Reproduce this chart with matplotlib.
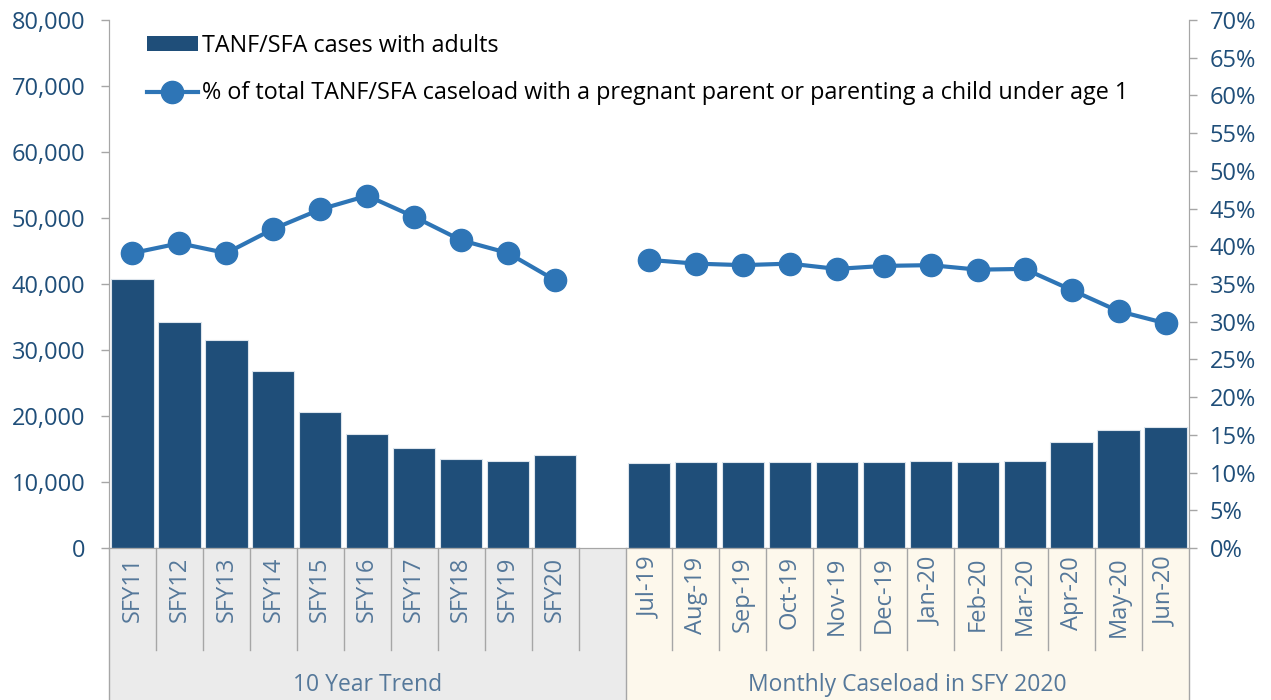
import matplotlib.pyplot as plt
import numpy as np
from matplotlib.lines import Line2D
from matplotlib.patches import Patch, Rectangle
from matplotlib.ticker import FuncFormatter

plt.rcParams['font.family'] = ['Open Sans', 'DejaVu Sans']

trend_labels = ['SFY11', 'SFY12', 'SFY13', 'SFY14', 'SFY15', 'SFY16', 'SFY17', 'SFY18', 'SFY19', 'SFY20']
trend_cases = [40800, 34250, 31500, 26800, 20600, 17250, 15150, 13500, 13200, 14100]
trend_pct = [39.1, 40.4, 39.1, 42.3, 44.9, 46.7, 43.9, 40.8, 39.1, 35.5]

month_labels = ['Jul-19', 'Aug-19', 'Sep-19', 'Oct-19', 'Nov-19', 'Dec-19',
                'Jan-20', 'Feb-20', 'Mar-20', 'Apr-20', 'May-20', 'Jun-20']
month_cases = [12900, 13100, 13000, 13100, 13000, 13050, 13150, 13100, 13200, 16100, 17950, 18300]
month_pct = [38.2, 37.7, 37.5, 37.7, 37.0, 37.4, 37.5, 36.9, 37.0, 34.2, 31.4, 29.8]

groups = ['10 Year Trend', 'Monthly Caseload in SFY 2020']

bar_col = '#1F4E79'
line_col = '#2E75B6'
tick_col = '#1F4E79'
cat_col = '#55789A'
grid_col = '#A6A6A6'

x_trend = np.arange(len(trend_labels))
x_month = np.arange(len(month_labels)) + len(trend_labels) + 1
n_slots = len(trend_labels) + 1 + len(month_labels)

fig = plt.figure(figsize=(12.71, 7.0), dpi=100)
ax = fig.add_axes([109 / 1271, 152 / 700, 1080 / 1271, 528 / 700])
ax2 = ax.twinx()

ax.bar(x_trend, trend_cases, width=0.9, color=bar_col, edgecolor='#DCE4EC', linewidth=0.8, zorder=2)
ax.bar(x_month, month_cases, width=0.9, color=bar_col, edgecolor='#DCE4EC', linewidth=0.8, zorder=2)

for xs, ys in [(x_trend, trend_pct), (x_month, month_pct)]:
    ax2.plot(xs, ys, color=line_col, lw=3, marker='o', ms=16, zorder=3)

ax.set_xlim(-0.5, n_slots - 0.5)
ax.set_ylim(0, 80000)
ax2.set_ylim(0, 70)
ax.set_yticks(np.arange(0, 80001, 10000))
ax2.set_yticks(np.arange(0, 71, 5))
ax.yaxis.set_major_formatter(FuncFormatter(lambda v, p: f'{int(v):,}'))
ax2.yaxis.set_major_formatter(FuncFormatter(lambda v, p: f'{int(v)}%'))
ax.tick_params(axis='y', colors=grid_col, labelcolor=tick_col, labelsize=17, length=6, width=1, pad=11)
ax2.tick_params(axis='y', colors=grid_col, labelcolor=tick_col, labelsize=17, length=6, width=1, pad=9)
ax.set_xticks([])

for a in (ax, ax2):
    a.spines['top'].set_visible(False)
    a.spines['bottom'].set_color(grid_col)
    a.spines['left'].set_color(grid_col)
    a.spines['right'].set_color(grid_col)

# category area below the axis
tr = ax.get_xaxis_transform()
bottom = -152 / 528
tick_bot = -102 / 528
ax.add_patch(Rectangle((-0.5, bottom), len(trend_labels) + 1, -bottom, transform=tr,
                       facecolor='#EBEBEB', edgecolor='none', clip_on=False, zorder=0))
ax.add_patch(Rectangle((len(trend_labels) + 0.5, bottom), len(month_labels), -bottom, transform=tr,
                       facecolor='#FDF8EC', edgecolor='none', clip_on=False, zorder=0))
for i in range(1, n_slots):
    yb = bottom if i == len(trend_labels) + 1 else tick_bot
    ax.plot([i - 0.5, i - 0.5], [0, yb], transform=tr, color=grid_col, lw=1, clip_on=False)
for xv in (-0.5, n_slots - 0.5):
    ax.plot([xv, xv], [0, bottom], transform=tr, color=grid_col, lw=1, clip_on=False)

for xs, labs in [(x_trend, trend_labels), (x_month, month_labels)]:
    for xv, lab in zip(xs, labs):
        ax.text(xv, -0.016, lab, transform=tr, rotation=90, ha='center', va='top',
                fontsize=17, color=cat_col)

ax.text((len(trend_labels)) / 2, -0.26, groups[0], transform=tr, ha='center', va='center',
        fontsize=16.5, color=cat_col)
ax.text(x_month.mean(), -0.26, groups[1], transform=tr, ha='center', va='center',
        fontsize=16.5, color=cat_col)

handles = [Patch(facecolor=bar_col, edgecolor='none'),
           Line2D([], [], color=line_col, lw=3, marker='o', ms=16)]
labels = ['TANF/SFA cases with adults',
          '% of total TANF/SFA caseload with a pregnant parent or parenting a child under age 1']
ax2.legend(handles, labels, loc='upper left', bbox_to_anchor=(0.022, 1.0), frameon=False,
           fontsize=16.8, handlelength=2.2, handleheight=0.6, handletextpad=0.15,
           labelspacing=1.0, borderaxespad=0.2)

fig.savefig('out.png', dpi=100)
